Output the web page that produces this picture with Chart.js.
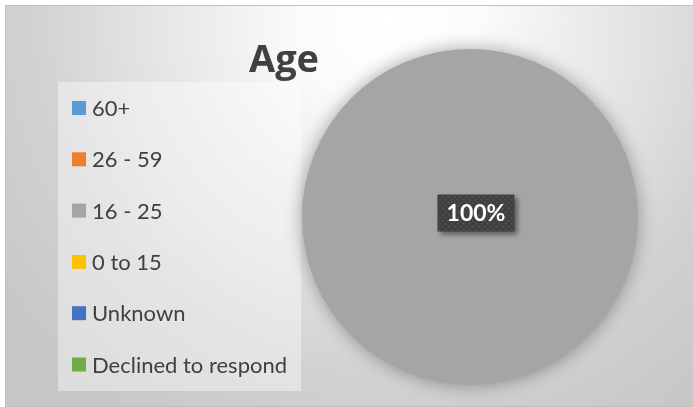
<!DOCTYPE html>
<html>
<head>
<meta charset="utf-8">
<title>Age</title>
<script src="https://cdn.jsdelivr.net/npm/chart.js@4"></script>
<style>
  html, body { margin: 0; padding: 0; background: #fff; }
  #chart { display: block; }
</style>
</head>
<body>
<canvas id="chart" width="693" height="407"></canvas>
<script>
// Age breakdown, share of respondents (%)
const chartTitle = "Age";
const ageGroups = ["60+", "26 - 59", "16 - 25", "0 to 15", "Unknown", "Declined to respond"];
const ageShares = [0, 0, 100, 0, 0, 0];
const groupColors = ["#5B9BD5", "#ED7D31", "#A5A5A5", "#FFC000", "#4472C4", "#70AD47"];

const FONT = "Lato, 'Liberation Sans', sans-serif";
const TITLE_FONT = "'Open Sans', Lato, sans-serif";
const TEXT_COLOR = "#404040";

// grey radial gradient + thin frame, like the office chart style
const backgroundPlugin = {
  id: "background",
  beforeDraw(chart) {
    const ctx = chart.ctx;
    const w = chart.width, h = chart.height;
    ctx.save();
    ctx.fillStyle = "#ffffff";
    ctx.fillRect(0, 0, w, h);
    const g = ctx.createRadialGradient(390, 20, 0, 390, 20, 490);
    g.addColorStop(0, "#ffffff");
    g.addColorStop(0.18, "#fbfbfb");
    g.addColorStop(0.55, "#e0e0e0");
    g.addColorStop(0.72, "#d2d2d2");
    g.addColorStop(1, "#c6c6c6");
    ctx.fillStyle = g;
    ctx.fillRect(6, 6, w - 6, h - 7);
    ctx.strokeStyle = "#c0c0c0";
    ctx.lineWidth = 1;
    ctx.strokeRect(5.5, 5.5, w - 5, h - 6);
    ctx.restore();
  }
};

// legend panel on the left and the title
const sideLegendPlugin = {
  id: "sideLegend",
  beforeDatasetsDraw(chart) {
    const ctx = chart.ctx;
    const ds = chart.data.datasets[0];
    ctx.save();
    ctx.fillStyle = "rgba(255,255,255,0.4)";
    ctx.fillRect(58, 82, 243, 309);
    ctx.font = "22px " + FONT;
    ctx.textBaseline = "middle";
    chart.data.labels.forEach((label, i) => {
      const y = 108 + i * 51.3;
      ctx.fillStyle = ds.backgroundColor[i];
      ctx.fillRect(72, y - 7, 14, 14);
      ctx.fillStyle = TEXT_COLOR;
      ctx.fillText(label, 92, y + 1);
    });
    ctx.font = "bold 38px " + TITLE_FONT;
    ctx.textAlign = "center";
    ctx.textBaseline = "alphabetic";
    ctx.fillText(chartTitle, 284, 72);
    ctx.restore();
  }
};

// soft glow around the pie
const pieShadowPlugin = {
  id: "pieShadow",
  beforeDatasetsDraw(chart) {
    const ctx = chart.ctx;
    ctx.save();
    ctx.shadowColor = "rgba(0,0,0,0.35)";
    ctx.shadowBlur = 18;
  },
  afterDatasetsDraw(chart) {
    chart.ctx.restore();
  }
};

// dotted dark tile used behind the percentage label
function makeLabelPattern(ctx) {
  const tile = document.createElement("canvas");
  tile.width = 6;
  tile.height = 6;
  const t = tile.getContext("2d");
  t.fillStyle = "#404040";
  t.fillRect(0, 0, 6, 6);
  t.fillStyle = "#575757";
  t.fillRect(1, 1, 1.5, 1.5);
  t.fillRect(4, 4, 1.5, 1.5);
  return ctx.createPattern(tile, "repeat");
}

const dataLabelPlugin = {
  id: "dataLabels",
  afterDatasetsDraw(chart) {
    const ctx = chart.ctx;
    const meta = chart.getDatasetMeta(0);
    const values = chart.data.datasets[0].data;
    const total = values.reduce((a, b) => a + b, 0);
    meta.data.forEach((arc, i) => {
      if (!values[i]) return;
      const text = Math.round(values[i] / total * 100) + "%";
      const full = arc.circumference >= Math.PI * 2 - 1e-6;
      const pos = full ? { x: arc.x + 6, y: arc.y - 4 } : arc.tooltipPosition();
      const bw = 77, bh = 37;
      ctx.save();
      ctx.shadowColor = "rgba(0,0,0,0.45)";
      ctx.shadowBlur = 5;
      ctx.shadowOffsetX = 3;
      ctx.shadowOffsetY = 3;
      ctx.fillStyle = makeLabelPattern(ctx);
      ctx.fillRect(pos.x - bw / 2, pos.y - bh / 2, bw, bh);
      ctx.restore();
      ctx.save();
      ctx.font = "bold 23px " + FONT;
      ctx.fillStyle = "#ffffff";
      ctx.textAlign = "center";
      ctx.textBaseline = "middle";
      ctx.fillText(text, pos.x, pos.y + 1);
      ctx.restore();
    });
  }
};

new Chart(document.getElementById("chart"), {
  type: "pie",
  data: {
    labels: ageGroups,
    datasets: [{
      data: ageShares,
      backgroundColor: groupColors,
      borderWidth: 0,
      clip: false
    }]
  },
  options: {
    responsive: false,
    animation: false,
    layout: { padding: { left: 302, right: 55, top: 49, bottom: 22 } },
    plugins: {
      legend: { display: false },
      title: { display: false },
      tooltip: { enabled: false }
    }
  },
  plugins: [backgroundPlugin, sideLegendPlugin, pieShadowPlugin, dataLabelPlugin]
});
</script>
</body>
</html>
